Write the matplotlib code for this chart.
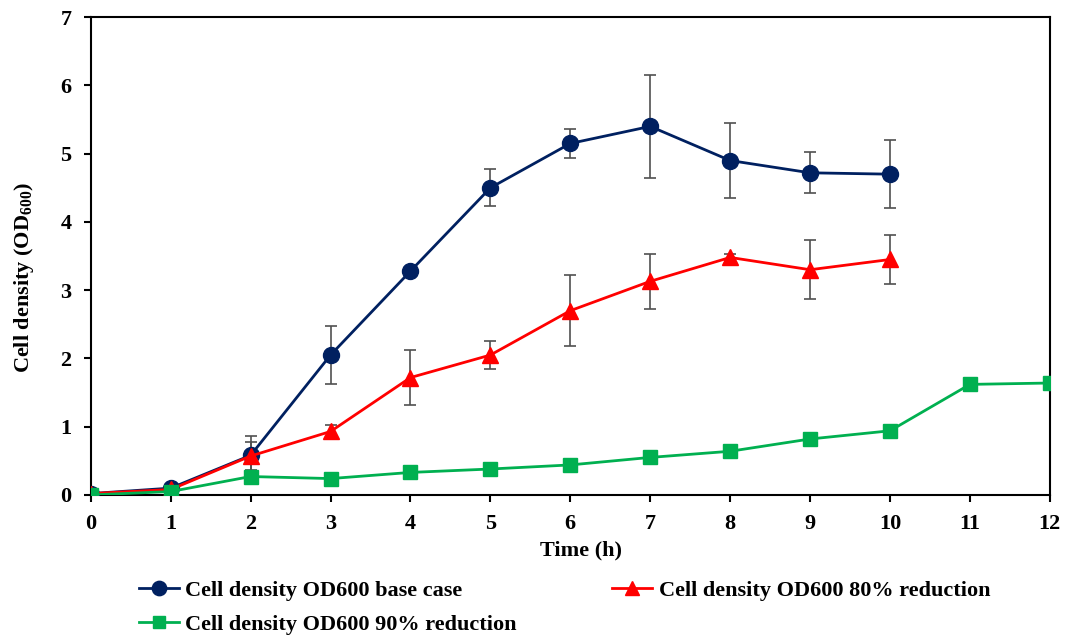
import matplotlib
matplotlib.use("Agg")
import matplotlib.pyplot as plt
from matplotlib.lines import Line2D

plt.rcParams['font.family'] = ['Liberation Serif', 'DejaVu Serif']
plt.rcParams['font.weight'] = 'bold'
plt.rcParams['mathtext.fontset'] = 'custom'
plt.rcParams['mathtext.bf'] = 'Liberation Serif:bold'
plt.rcParams['mathtext.rm'] = 'Liberation Serif:bold'

time_base = [0, 1, 2, 3, 4, 5, 6, 7, 8, 9, 10]
base = [0.02, 0.10, 0.58, 2.05, 3.28, 4.50, 5.15, 5.40, 4.90, 4.72, 4.70]
base_err = [0.0, 0.0, 0.28, 0.43, 0.0, 0.27, 0.21, 0.76, 0.55, 0.30, 0.50]

time_80 = [0, 1, 2, 3, 4, 5, 6, 7, 8, 9, 10]
red80 = [0.02, 0.08, 0.57, 0.93, 1.72, 2.05, 2.70, 3.13, 3.48, 3.30, 3.45]
red80_err = [0.0, 0.0, 0.20, 0.10, 0.40, 0.21, 0.52, 0.40, 0.05, 0.43, 0.36]

time_90 = [0, 1, 2, 3, 4, 5, 6, 7, 8, 9, 10, 11, 12]
red90 = [0.0, 0.05, 0.27, 0.24, 0.33, 0.38, 0.44, 0.55, 0.64, 0.82, 0.94, 1.62, 1.64]

labels = ['Cell density OD600 base case', 'Cell density OD600 80% reduction',
          'Cell density OD600 90% reduction']
colors = ['#002060', '#FF0000', '#00B050']
markers = ['o', '^', 's']
msizes = [11.5, 11.5, 10]

fig = plt.figure(figsize=(10.68, 6.37), dpi=100)
ax = fig.add_axes([0.085, 0.223, 0.898, 0.750])

ecol = '#505050'
ax.errorbar(time_base, base, yerr=base_err, color=colors[0], marker=markers[0], markersize=msizes[0],
            linewidth=2, ecolor=ecol, elinewidth=1.2, capsize=4, capthick=1.2, zorder=3)
ax.errorbar(time_80, red80, yerr=red80_err, color=colors[1], marker=markers[1], markersize=msizes[1],
            linewidth=2, ecolor=ecol, elinewidth=1.2, capsize=4, capthick=1.2, zorder=3)
ax.plot(time_90, red90, color=colors[2], marker=markers[2], markersize=msizes[2], linewidth=2,
        zorder=4)

ax.set_xlim(0, 12)
ax.set_ylim(0, 7)
ax.set_xticks(range(0, 13))
ax.set_yticks(range(0, 8))
ax.tick_params(axis='both', labelsize=16, direction='out', length=5, width=1.5, pad=9)
for lab in ax.get_xticklabels() + ax.get_yticklabels():
    lab.set_fontweight('bold')
for s in ax.spines.values():
    s.set_linewidth(1.5)

ax.set_xlabel('Time (h)', fontsize=16, fontweight='bold')
ax.set_ylabel(r'Cell density (OD$_{\mathbf{600}}$)', fontsize=16, fontweight='bold')
ax.xaxis.set_label_coords(0.511, -0.096)
ax.yaxis.set_label_coords(-0.057, 0.454)

handles = [Line2D([], [], color=c, marker=m, markersize=ms * 0.9, linewidth=2)
           for c, m, ms in zip(colors, markers, msizes)]
order = [0, 2, 1]
fig.legend([handles[i] for i in order], [labels[i] for i in order],
           loc='upper left', bbox_to_anchor=(0.111, 0.120), ncol=2, frameon=False,
           prop={'weight': 'bold', 'size': 16}, handlelength=1.8,
           columnspacing=4.3, handletextpad=0.3, labelspacing=0.6)

fig.savefig('out.png', dpi=100)
